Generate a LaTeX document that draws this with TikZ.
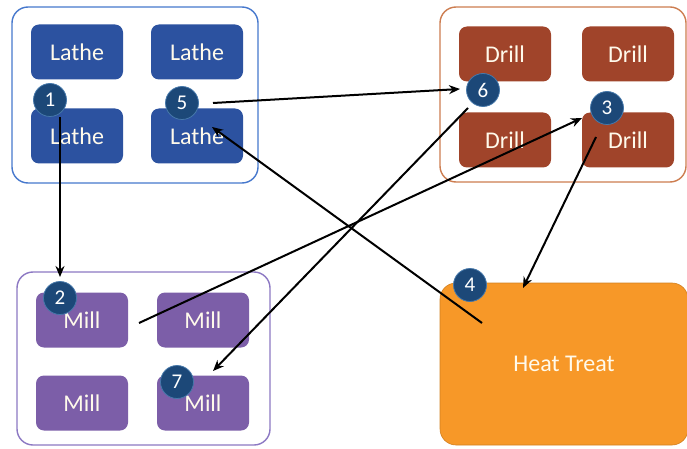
\documentclass[tikz,border=0pt]{standalone}
\usepackage{fontspec}
\setmainfont{Carlito}
\usetikzlibrary{arrows.meta}
\definecolor{latheC}{RGB}{44,82,160}
\definecolor{drillC}{RGB}{160,68,42}
\definecolor{millC}{RGB}{124,94,168}
\definecolor{heatC}{RGB}{247,152,40}
\definecolor{badgeC}{RGB}{28,72,120}
\definecolor{badgeE}{RGB}{70,120,170}
\definecolor{latheG}{RGB}{70,120,205}
\definecolor{drillG}{RGB}{205,125,80}
\definecolor{millG}{RGB}{140,120,195}
\definecolor{textC}{RGB}{255,250,235}
\tikzset{
  machine/.style={rounded corners=8pt, minimum width=92pt, minimum height=55pt,
    text=textC, font=\fontsize{24}{26}\selectfont, inner sep=0pt},
  lathe/.style={machine, fill=latheC},
  drill/.style={machine, fill=drillC},
  mill/.style={machine, fill=millC},
  group/.style={rounded corners=16pt, line width=1.4pt, fill=white},
  badge/.style={circle, fill=badgeC, draw=badgeE, line width=0.8pt, minimum size=33pt,
    inner sep=0pt, text=white, font=\fontsize{21}{22}\selectfont},
  flow/.style={line width=2pt, -{Stealth[length=11pt,width=9pt]}}
}
\begin{document}
\begin{tikzpicture}[x=1pt,y=-1pt]
\useasboundingbox (0,0) rectangle (687,449);
% cell outlines
\draw[group, draw=latheG] (12,7) rectangle (258,183);
\draw[group, draw=drillG] (440,7) rectangle (686,182);
\draw[group, draw=millG] (17,272) rectangle (270,445);
% lathe cell
\node[lathe] (L1) at (77,52) {Lathe};
\node[lathe] (L2) at (197,52) {Lathe};
\node[lathe] (L3) at (77,136) {Lathe};
\node[lathe] (L4) at (197,136) {Lathe};
% drill cell
\node[drill] (D1) at (505,54) {Drill};
\node[drill] (D2) at (628,54) {Drill};
\node[drill] (D3) at (505,140) {Drill};
\node[drill] (D4) at (628,140) {Drill};
% mill cell
\node[mill] (M1) at (82,320) {Mill};
\node[mill] (M2) at (203,320) {Mill};
\node[mill] (M3) at (82,403) {Mill};
\node[mill] (M4) at (203,403) {Mill};
% heat treat
\node[rounded corners=16pt, fill=heatC, draw=heatC!85!black, line width=0.6pt,
  minimum width=248pt, minimum height=162pt, text=textC,
  font=\fontsize{24}{26}\selectfont] (HT) at (564,364) {Heat Treat};
% step badges
\node[badge] (b1) at (50,100) {1};
\node[badge] (b2) at (60,298) {2};
\node[badge] (b3) at (607,108) {3};
\node[badge] (b4) at (470,285) {4};
\node[badge] (b5) at (182,103) {5};
\node[badge] (b6) at (483,90) {6};
\node[badge] (b7) at (177,382) {7};
% connector end points
\coordinate (s1) at (60,117);
\coordinate (e1) at (60,277);
\coordinate (s2) at (139,323);
\coordinate (e2) at (582,118);
\coordinate (s3) at (596,137);
\coordinate (e3) at (523,288);
\coordinate (s4) at (482,323);
\coordinate (e4) at (212,127);
\coordinate (s5) at (213,103);
\coordinate (e5) at (460,89);
\coordinate (s6) at (468,108);
\coordinate (e6) at (213,371);
% material flow
\draw[flow] (s1) -- (e1);
\draw[flow] (s2) -- (e2);
\draw[flow] (s3) -- (e3);
\draw[flow] (s4) -- (e4);
\draw[flow] (s5) -- (e5);
\draw[flow] (s6) -- (e6);
\end{tikzpicture}
\end{document}
